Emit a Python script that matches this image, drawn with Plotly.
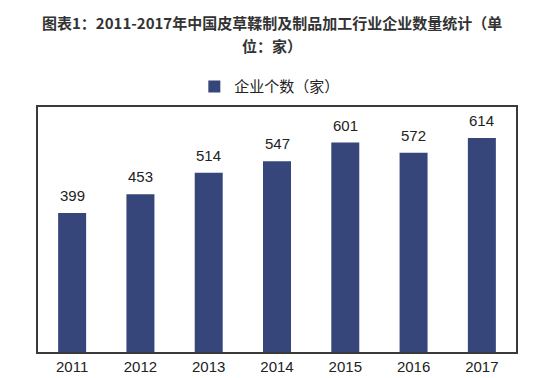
import plotly.graph_objects as go

years = ["2011", "2012", "2013", "2014", "2015", "2016", "2017"]
counts = [399, 453, 514, 547, 601, 572, 614]
series_name = "企业个数（家）"
title_line1 = "图表1：2011-2017年中国皮草鞣制及制品加工行业企业数量统计（单"
title_line2 = "位：家）"

fig = go.Figure()
fig.add_trace(go.Bar(
    x=years, y=counts, name=series_name,
    marker=dict(color="#36457a", line=dict(width=0)),
    showlegend=True,
))

for i, v in enumerate(counts):
    fig.add_annotation(x=i, y=v, text=str(v), showarrow=False,
                       yanchor="bottom", yshift=7,
                       font=dict(family="Liberation Sans, Arial", size=15, color="#222"))

title_font = dict(family="Noto Sans CJK SC", size=15, color="#333", weight="bold")
fig.add_annotation(xref="paper", yref="paper", x=0.49, y=1.0, yshift=85,
                   xanchor="center", yanchor="middle", showarrow=False,
                   text=title_line1, font=title_font)
fig.add_annotation(xref="paper", yref="paper", x=0.49, y=1.0, yshift=62,
                   xanchor="center", yanchor="middle", showarrow=False,
                   text=title_line2, font=title_font)

fig.update_layout(
    width=535, height=378,
    margin=dict(l=30, r=27, t=99, b=34),
    paper_bgcolor="white", plot_bgcolor="white",
    bargap=0.59,
    legend=dict(orientation="h", x=0.485, xanchor="center", y=1.015, yanchor="bottom",
                xref="paper", bgcolor="rgba(0,0,0,0)",
                font=dict(family="Noto Sans CJK SC", size=15, color="#222"),
                itemwidth=30, itemsizing="constant"),
    xaxis=dict(type="category", showline=True, linecolor="#3a3a3a", linewidth=2, mirror=True,
               ticks="", automargin=False,
               tickfont=dict(family="Liberation Sans, Arial", size=15, color="#222")),
    yaxis=dict(range=[0, 703], showline=True, linecolor="#3a3a3a", linewidth=2, mirror=True,
               showgrid=False, showticklabels=False, ticks="", zeroline=False),
)

fig.write_html("out.html")
